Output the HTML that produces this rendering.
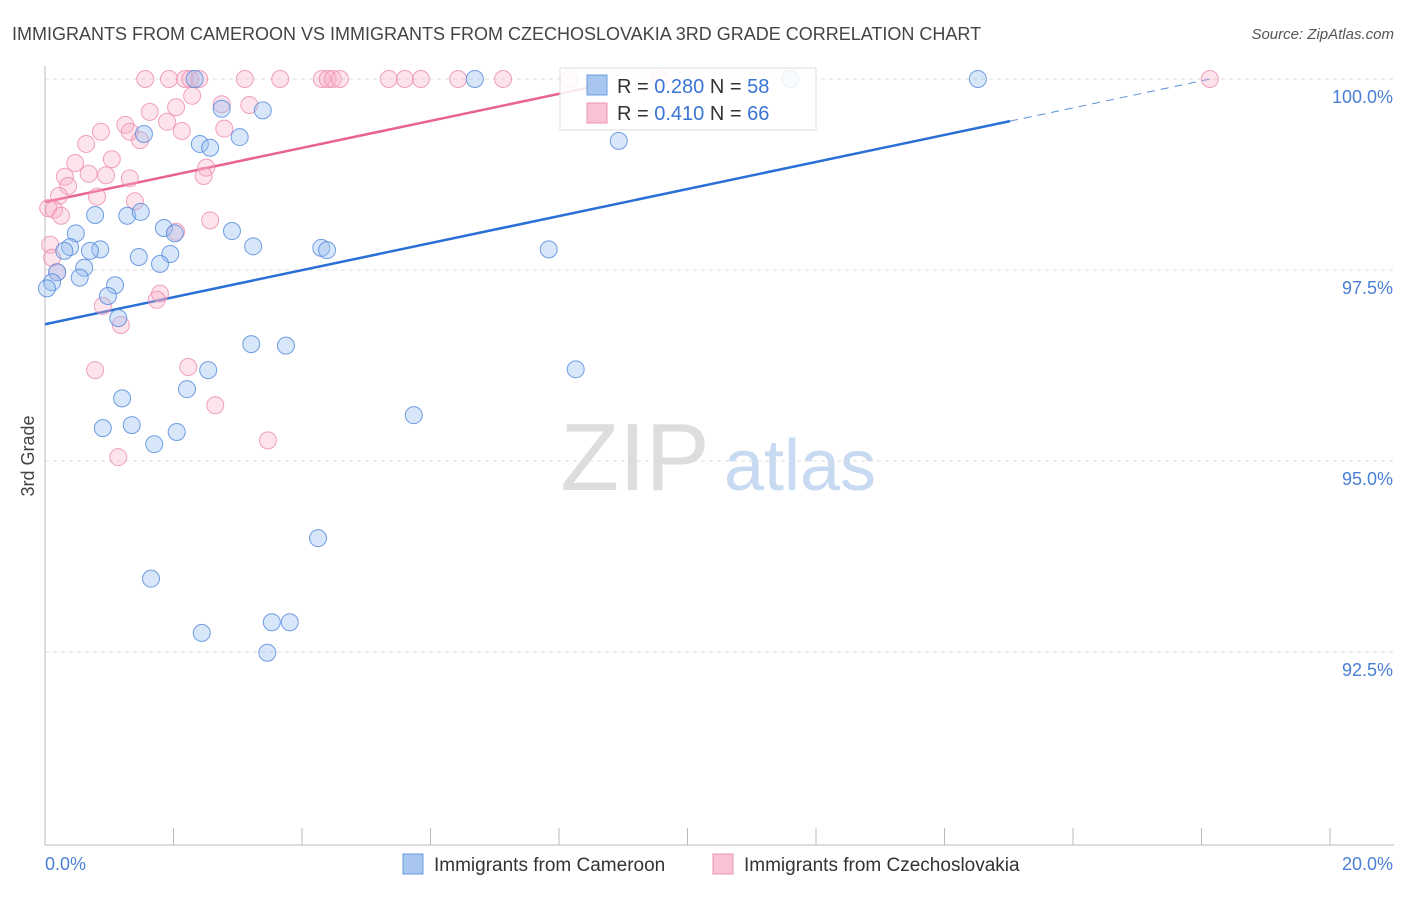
<!DOCTYPE html>
<html><head><meta charset="utf-8"><style>
body{margin:0;background:#fff;font-family:"Liberation Sans",sans-serif;}
svg text{font-family:"Liberation Sans",sans-serif;}
</style></head><body>
<svg id="chart" width="1406" height="892">
<text x="12" y="40" font-size="18" fill="#444">IMMIGRANTS FROM CAMEROON VS IMMIGRANTS FROM CZECHOSLOVAKIA 3RD GRADE CORRELATION CHART</text>
<text x="1394" y="39" font-size="15" fill="#555" text-anchor="end" font-style="italic">Source: ZipAtlas.com</text>
<text transform="translate(34,456) rotate(-90)" font-size="18" fill="#444" text-anchor="middle">3rd Grade</text>
<g>
<text x="635" y="490" font-size="96" fill="#ddd" font-family="Liberation Serif" text-anchor="middle">ZIP</text>
<text x="800" y="490" font-size="72" fill="#c8daf2" text-anchor="middle">atlas</text>
</g>
<g id="grid"></g><g id="axes"></g><g id="lines"></g><g id="pts"></g>
<g>
<rect x="560" y="68" width="256" height="62" fill="#fff" fill-opacity="0.85" stroke="#ddd"/>
<rect x="587" y="75" width="20" height="20" fill="#a9c6f0" stroke="#6a9be0"/>
<text x="617" y="93" font-size="20" fill="#333">R = <tspan fill="#3a74d4">0.280</tspan>   N = <tspan fill="#3a74d4">58</tspan></text>
<rect x="587" y="103" width="20" height="20" fill="#f9c3d3" stroke="#ec93b0"/>
<text x="617" y="120" font-size="20" fill="#333">R =  <tspan fill="#3a74d4">0.410</tspan>   N = <tspan fill="#3a74d4">66</tspan></text>
</g>
<g>
<rect x="403" y="854" width="20" height="20" fill="#a9c6f0" stroke="#6a9be0"/>
<text x="434" y="871" font-size="19" fill="#333">Immigrants from Cameroon</text>
<rect x="713" y="854" width="20" height="20" fill="#f9c3d3" stroke="#ec93b0"/>
<text x="744" y="871" font-size="19" fill="#333">Immigrants from Czechoslovakia</text>
</g>
</svg>
<script>
const xTicks=[0,2,4,6,8,10,12,14,16,18,20];
const yTicks=[100,97.5,95,92.5];
const yTickLabels=["100.0%","97.5%","95.0%","92.5%"];
const blueX=[2.33,6.69,11.6,14.52,2.75,3.39,1.54,3.03,2.41,2.57,8.93,0.78,1.28,1.49,1.85,2.02,2.91,0.48,0.39,0.30,0.86,0.70,3.24,4.30,4.39,7.84,1.46,1.95,1.79,0.61,0.54,0.19,0.11,0.03,1.09,0.98,1.14,3.21,3.75,2.54,8.26,2.21,1.20,5.74,0.90,1.35,2.05,1.70,4.25,1.65,2.44,3.53,3.81,3.46];
const blueY=[100,100,100,100,99.61,99.59,99.28,99.24,99.15,99.10,99.19,98.22,98.21,98.26,98.05,97.98,98.01,97.98,97.80,97.75,97.77,97.75,97.81,97.79,97.76,97.77,97.67,97.71,97.58,97.53,97.40,97.47,97.34,97.26,97.30,97.16,96.87,96.53,96.51,96.19,96.20,95.94,95.82,95.60,95.43,95.47,95.38,95.22,93.99,93.46,92.75,92.89,92.89,92.49];
const pinkX=[1.56,1.93,2.18,2.26,2.40,3.11,3.66,4.31,4.40,4.48,4.59,5.35,5.60,5.85,6.43,7.13,8.17,9.57,18.13,2.29,2.75,3.18,1.63,2.04,1.90,1.25,0.87,2.13,2.79,1.32,1.48,0.64,1.04,0.47,0.95,0.68,0.31,1.32,2.51,2.47,0.36,0.81,0.22,1.40,0.05,0.14,0.25,2.57,2.04,0.08,0.11,0.19,1.79,1.74,0.90,1.18,2.23,0.78,2.65,3.47,1.14];
const pinkY=[100,100,100,100,100,100,100,100,100,100,100,100,100,100,100,100,100,100,100,99.78,99.67,99.66,99.57,99.63,99.44,99.40,99.31,99.32,99.35,99.31,99.20,99.15,98.95,98.90,98.74,98.76,98.72,98.70,98.84,98.73,98.60,98.46,98.47,98.40,98.31,98.29,98.21,98.15,98.00,97.83,97.66,97.47,97.19,97.11,97.03,96.78,96.23,96.19,95.73,95.27,95.05];
const blueFit=[96.79,0.177];
const pinkFit=[98.39,0.177];
const X=v=>45+v*64.25, Y=v=>79+(100-v)*76.4;
const NS="http://www.w3.org/2000/svg";
function mk(t,a,p){const e=document.createElementNS(NS,t);for(const k in a)e.setAttribute(k,a[k]);p.appendChild(e);return e;}
const grid=document.getElementById('grid'),axes=document.getElementById('axes'),lines=document.getElementById('lines'),pts=document.getElementById('pts');
yTicks.forEach((v,i)=>{
 const l=mk('line',{x1:45,x2:1394,y1:Y(v),y2:Y(v),stroke:'#ddd','stroke-dasharray':'4,4'},grid);
 
 
 const t=mk('text',{x:1393,y:Y(v)+24,'font-size':18,fill:'#4a7fd6','text-anchor':'end'},axes);
 t.textContent=yTickLabels[i];
 
 
});
const ya=mk('line',{x1:45,x2:45,y1:66,y2:845,stroke:'#bbb'},axes);


const xa=mk('line',{x1:45,x2:1394,y1:845,y2:845,stroke:'#bbb'},axes);


xTicks.forEach(v=>{
 const t=mk('line',{x1:X(v),x2:X(v),y1:828,y2:845,stroke:'#bbb'},axes);
 
 
});
const xl0=mk('text',{x:45,y:870,'font-size':18,fill:'#4a7fd6'},axes);xl0.textContent='0.0%';


const xl1=mk('text',{x:1393,y:870,'font-size':18,fill:'#4a7fd6','text-anchor':'end'},axes);xl1.textContent='20.0%';


function dots(xs,ys,fill,stroke,name){xs.forEach((x,i)=>{
 const c=mk('circle',{cx:X(x),cy:Y(ys[i]),r:8.5,fill:fill,stroke:stroke,'stroke-width':1},pts);
 
 
});}
dots(pinkX,pinkY,'rgba(248,175,198,0.35)','rgba(236,140,172,0.8)','point-czechoslovakia');
dots(blueX,blueY,'rgba(155,192,240,0.4)','rgba(80,135,220,0.8)','point-cameroon');
const bEnd=15.02;
const b1=mk('line',{x1:X(0),y1:Y(blueFit[0]),x2:X(bEnd),y2:Y(blueFit[0]+blueFit[1]*bEnd),stroke:'#2a6fd6','stroke-width':2.5},lines);


const b2=mk('line',{x1:X(bEnd),y1:Y(blueFit[0]+blueFit[1]*bEnd),x2:X(18.13),y2:Y(blueFit[0]+blueFit[1]*18.13),stroke:'#5a8fd8','stroke-width':1,'stroke-dasharray':'8,6'},lines);


const pEnd=8.64;
const p1=mk('line',{x1:X(0),y1:Y(pinkFit[0]),x2:X(pEnd),y2:Y(pinkFit[0]+pinkFit[1]*pEnd),stroke:'#e8638f','stroke-width':2.5},lines);


</script>
</body></html>
